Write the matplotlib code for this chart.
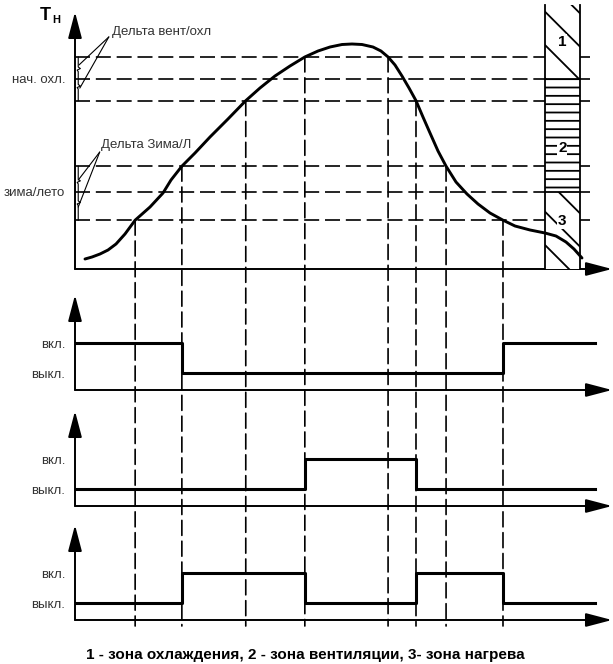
import matplotlib
matplotlib.use('Agg')
import matplotlib.pyplot as plt
from matplotlib.patches import Rectangle, ConnectionPatch

plt.rcParams['font.family'] = ['Liberation Sans', 'DejaVu Sans']
plt.rcParams['hatch.linewidth'] = 1.3

W, H = 613, 664

# outdoor temperature curve, time 0..100, temperature 0..100
curve_t = [1.86, 3.17, 4.66, 6.15, 7.64, 9.31, 11.2, 13.97, 16.39, 17.88, 19.9,
           22.35, 25.14, 28.49, 31.8, 34.45, 37.24, 40.04, 42.8, 45.25, 47.49,
           49.72, 51.58, 53.45, 55.49, 56.98, 58.3, 59.59, 60.89, 62.2, 63.5,
           64.8, 66.11, 67.6, 69.1, 70.95, 73.0, 75.05, 77.28, 79.7, 81.94,
           84.73, 87.52, 89.57, 91.43, 92.92, 94.41]
curve_T = [3.89, 4.67, 5.84, 7.39, 9.73, 13.62, 19, 24.12, 29.57, 34.63, 40,
           45.14, 51.36, 58.37, 65.5, 70.43, 75.1, 78.99, 82.5, 84.82, 86.38,
           87.35, 87.55, 87.35, 86.38, 84.82, 82.5, 79.38, 75.1, 70.43, 65.5,
           59.14, 52.92, 45.91, 40, 33.85, 29.18, 25.29, 21.79, 19, 16.73,
           15.18, 14.01, 12.84, 10.51, 7.78, 4.28]

cool_levels = [65.5, 74, 82.5]   # нач. охл. +- дельта вент/охл
season_levels = [19, 30, 40]     # зима/лето +- дельта зима/л
tick_levels = [74, 30]
tick_labels = ['нач. охл.', 'зима/лето']

# moments where the curve crosses the thresholds
mark_t = [11.2, 19.9, 31.8, 42.8, 58.3, 63.5, 69.1, 79.7]
mark_T = [19, 40, 65.5, 82.5, 82.5, 65.5, 40, 19]

# relay outputs (step 'post')
relay1_t = [0, 19.9, 79.7, 96.8]
relay1_s = [1, 0, 1, 1]
relay2_t = [0, 42.8, 63.5, 96.8]
relay2_s = [0, 1, 0, 0]
relay3_t = [0, 19.9, 42.8, 63.5, 79.7, 96.8]
relay3_s = [0, 1, 0, 1, 0, 0]
state_labels = ['вкл.', 'выкл.']

# zones in the hatched column
zone_t = [87.5, 94.0]
zone_bounds = [0, 30, 74, 102.7]
zone_names = ['3', '2', '1']
zone_label_T = [18.7, 47, 88.3]
zone_hatch = ['\\', '--', '\\']

DASH = (0, (9, 3.5))
LABEL_COLOR = '#333333'


def draw_arrows(ax):
    for s in ax.spines.values():
        s.set_visible(False)
    ax.set_xticks([])
    kw = dict(arrowstyle='-|>,head_length=1.6,head_width=0.42', mutation_scale=10,
              lw=1.4, color='black', shrinkA=0, shrinkB=0)
    ax.annotate('', xy=(0, 1), xytext=(0, 0), xycoords='axes fraction',
                arrowprops=kw, annotation_clip=False)
    ax.annotate('', xy=(1, 0), xytext=(0, 0), xycoords='axes fraction',
                arrowprops=kw, annotation_clip=False)
    ax.patch.set_visible(False)


fig = plt.figure(figsize=(W / 100, H / 100), dpi=100)

# ---- top panel: temperature ----
ax = fig.add_axes([75 / W, 1 - 269 / H, 537 / W, 257 / H])
ax.set_xlim(0, 100)
ax.set_ylim(0, 100)
draw_arrows(ax)
ax.set_yticks(tick_levels, tick_labels)
ax.tick_params(axis='y', length=0, pad=7, labelsize=9.5, labelcolor=LABEL_COLOR)

for lv in cool_levels + season_levels:
    ax.plot([0, 96.3], [lv, lv], color='black', lw=1.2, linestyle=DASH, zorder=2)

# hatched zone column
for i in range(3):
    r = Rectangle((zone_t[0], zone_bounds[i]), zone_t[1] - zone_t[0],
                  zone_bounds[i + 1] - zone_bounds[i], facecolor='white',
                  edgecolor='black', hatch=zone_hatch[i], lw=0, clip_on=False, zorder=3)
    ax.add_patch(r)
    ax.text((zone_t[0] + zone_t[1]) / 2, zone_label_T[i], zone_names[i],
            ha='center', va='center', fontsize=11, fontweight='bold', zorder=5,
            bbox=dict(facecolor='white', edgecolor='none', pad=0.5))
for zt in zone_t:
    ax.plot([zt, zt], [0, zone_bounds[-1]], color='black', lw=1.3, clip_on=False, zorder=4)
for lv in tick_levels:
    ax.plot(zone_t, [lv, lv], color='black', lw=1.3, zorder=4)

ax.plot(curve_t, curve_T, color='black', lw=2.1, solid_capstyle='round',
        solid_joinstyle='round', zorder=6, clip_on=False)

# delta brackets
for top, bot in [(cool_levels[2], cool_levels[0]), (season_levels[2], season_levels[0])]:
    mid1 = top - (top - bot) * 0.3
    mid2 = top - (top - bot) * 0.7
    xs = [0.6, 0.6, 1.0, 0.4, 0.6, 0.6, 1.0, 0.4, 0.6, 0.6]
    ys = [top, mid1 + 1.2, mid1 + 0.6, mid1, mid1 - 0.6, mid2 + 1.2, mid2 + 0.6, mid2, mid2 - 0.6, bot]
    ax.plot(xs, ys, color='black', lw=0.8, zorder=3)

lead = dict(arrowstyle='-', lw=0.8, color='black', shrinkA=0, shrinkB=0)
ax.text(6.9, 92.2, 'Дельта вент/охл', fontsize=9.5, va='center', ha='left', color=LABEL_COLOR)
ax.annotate('', xy=(0.9, 70.4), xytext=(6.3, 90.3), arrowprops=lead)
ax.annotate('', xy=(0.75, 79.4), xytext=(6.3, 90.3), arrowprops=lead)
ax.text(4.8, 48.2, 'Дельта Зима/Л', fontsize=9.5, va='center', ha='left', color=LABEL_COLOR)
ax.annotate('', xy=(0.6, 34.6), xytext=(4.6, 45.5), arrowprops=lead)
ax.annotate('', xy=(0.6, 24.1), xytext=(4.6, 45.5), arrowprops=lead)

fig.text(40 / W, 1 - 15 / H, 'Т', fontsize=13, fontweight='bold', va='center', ha='left')
fig.text(52 / W, 1 - 20 / H, 'Н', fontsize=8, fontweight='bold', va='center', ha='left')

# ---- relay panels ----
panels = []
for axis_px, (rt, rs) in zip([390, 506, 620],
                             [(relay1_t, relay1_s), (relay2_t, relay2_s), (relay3_t, relay3_s)]):
    pax = fig.add_axes([75 / W, 1 - axis_px / H, 537 / W, 95 / H])
    pax.set_xlim(0, 100)
    pax.set_ylim(-17 / 30, 78 / 30)
    draw_arrows(pax)
    pax.set_yticks([1, 0], state_labels)
    pax.tick_params(axis='y', length=0, pad=7, labelsize=9.5, labelcolor=LABEL_COLOR)
    pax.step(rt, rs, where='post', color='black', lw=2.2, zorder=5)
    panels.append(pax)

# vertical dashed lines through all panels
for t, T in zip(mark_t, mark_T):
    con = ConnectionPatch(xyA=(t, T), coordsA=ax.transData,
                          xyB=(t, -17 / 30 - 6 / 30), coordsB=panels[-1].transData,
                          color='black', lw=1.2, linestyle=DASH)
    fig.add_artist(con)

fig.text(305 / W, 1 - 655 / H, '1 - зона охлаждения, 2 - зона вентиляции, 3- зона нагрева',
         fontsize=11, fontweight='bold', ha='center', va='center')

fig.savefig('out.png', dpi=100, facecolor='white')
